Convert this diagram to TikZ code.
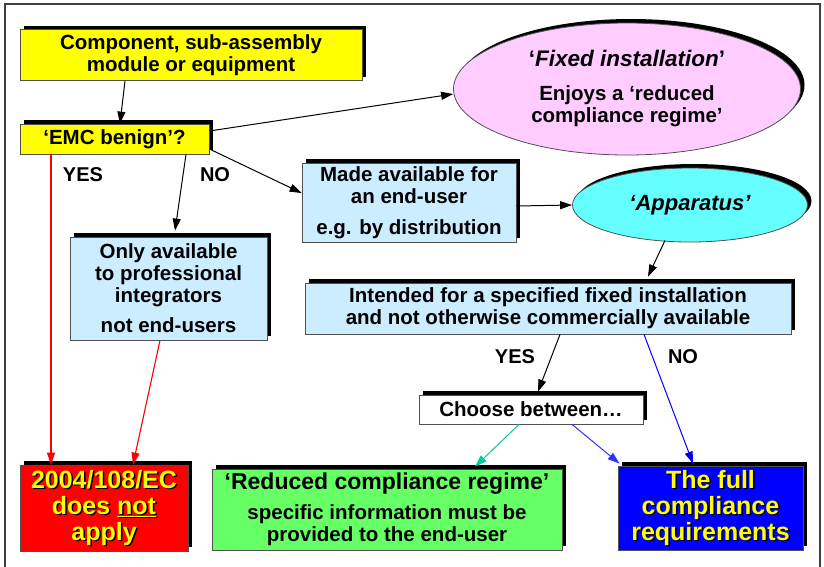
\documentclass[tikz,border=0pt]{standalone}
\usepackage{fontspec}
\setmainfont{Liberation Sans}
\usetikzlibrary{shapes.geometric,shadows,arrows.meta}
\definecolor{cyellow}{HTML}{FFFF00}
\definecolor{clblue}{HTML}{CCECFF}
\definecolor{cpink}{HTML}{FFCCFF}
\definecolor{ccyan}{HTML}{66FFFF}
\definecolor{cgreen}{HTML}{66FF66}
\definecolor{cblue}{HTML}{0000FF}
\definecolor{cred}{HTML}{FF0000}
\definecolor{cteal}{HTML}{00CC99}
\definecolor{cmblue}{HTML}{3333FF}
\definecolor{boxgray}{HTML}{505050}
\definecolor{framegray}{HTML}{404040}
\begin{document}
\begin{tikzpicture}[x=1pt,y=-1pt,
  box/.style={draw=boxgray, line width=0.8pt,
    drop shadow={shadow xshift=4pt,shadow yshift=4pt,fill=black,opacity=1},
    inner sep=0pt, align=center, font=\fontsize{20.5}{22}\bfseries\selectfont},
  ell/.style={box, ellipse},
  arr/.style={line width=1pt, -{Triangle[length=12pt,width=8pt]}},
  lbl/.style={font=\fontsize{20}{22}\bfseries\selectfont, inner sep=0pt},
  bigtxt/.style={font=\fontsize{25}{26}\bfseries\selectfont, align=center, inner sep=0pt},
]
\useasboundingbox (0,0) rectangle (824,566);
\fill[white] (0,0) rectangle (824,566);
\draw[framegray, line width=1.5pt] (5,572) -- (5,4) -- (820,4) -- (820,572);

% nodes
\node[box, fill=cyellow, minimum width=342pt, minimum height=51pt] (comp) at (191,55)
  {Component, sub-assembly\\module or equipment};
\node[box, fill=cyellow, minimum width=189pt, minimum height=30pt] (emc) at (114.5,139)
  {‘EMC benign’?};
\node[box, fill=clblue, minimum width=197pt, minimum height=103pt] (prof) at (168.5,288.5)
  {Only available\\to professional\\integrators\\[8pt]not end-users};
\node[box, fill=clblue, minimum width=214pt, minimum height=79pt] (made) at (409,202.5)
  {Made available for\\an end-user\\[9pt]e.g. by distribution};
\node[ell, fill=cpink, minimum width=347pt, minimum height=132pt] (fixed) at (627,89)
  {{\fontsize{22.5}{24}\selectfont ‘\textit{Fixed installation}’}\\[12pt]Enjoys a ‘reduced\\compliance regime’};
\node[ell, fill=ccyan, minimum width=235pt, minimum height=74pt] (app) at (690,205)
  {\fontsize{22}{24}\selectfont\itshape ‘Apparatus’};
\node[box, fill=clblue, minimum width=486pt, minimum height=51pt] (intended) at (548,308.5)
  {Intended for a specified fixed installation\\and not otherwise commercially available};
\node[box, fill=white, minimum width=224pt, minimum height=29pt] (choose) at (531,409.5)
  {Choose between…};
\node[box, fill=cgreen, minimum width=350pt, minimum height=81pt] (reduced) at (387,509.5)
  {{\fontsize{23}{24}\selectfont ‘Reduced compliance regime’}\\[8pt]specific information must be\\provided to the end-user};
\node[box, fill=cred, minimum width=168pt, minimum height=86pt] (notapply) at (104,508) {};
\node[box, fill=cblue, minimum width=185pt, minimum height=84pt] (full) at (710.5,508) {};

% shadowed yellow texts
\node[bigtxt, text=black] (notapplyS) at ([xshift=1.5pt,yshift=-1.5pt]notapply.center)
  {2004/108/EC\\does \underline{not}\\apply};
\node[bigtxt, text=cyellow] (notapplyT) at (notapply.center)
  {2004/108/EC\\does \underline{not}\\apply};
\node[bigtxt, text=black] (fullS) at ([xshift=1.5pt,yshift=-1.5pt]full.center)
  {The full\\compliance\\requirements};
\node[bigtxt, text=cyellow] (fullT) at (full.center)
  {The full\\compliance\\requirements};

% labels
\node[lbl] (yes1) at (83,175) {YES};
\node[lbl] (no1) at (215,175) {NO};
\node[lbl] (yes2) at (515,357) {YES};
\node[lbl] (no2) at (683,357) {NO};

% connectors
\draw[arr] ([xshift=-66pt]comp.south) -- ([xshift=5.5pt]emc.north);
\draw[arr] ([yshift=8pt]emc.east) -- ([yshift=-5pt]fixed.west);
\draw[arr] ([yshift=-10pt]emc.east) -- ([yshift=9.5pt]made.west);
\draw[arr] ([xshift=71.5pt]emc.south) -- ([xshift=6.5pt,yshift=6pt]prof.north);
\draw[arr, cred, line width=1.3pt] ([xshift=-63.5pt]emc.south) -- ([xshift=-53pt]notapply.north);
\draw[arr, cred, line width=1.1pt] ([xshift=-8.5pt]prof.south) -- ([xshift=29pt]notapply.north);
\draw[arr] ([yshift=-3.5pt]made.east) -- (app.west);
\draw[arr] ([xshift=-25pt,yshift=2pt]app.south) -- ([xshift=100pt,yshift=6pt]intended.north);
\draw[arr] ([xshift=12pt]intended.south) -- ([xshift=7pt,yshift=3pt]choose.north);
\draw[arr, cblue] ([xshift=96pt]intended.south) -- ([xshift=-17.5pt,yshift=2pt]full.north);
\draw[arr, cteal] ([xshift=-12pt]choose.south) -- ([xshift=88pt,yshift=2pt]reduced.north);
\draw[arr, cmblue] ([xshift=41pt]choose.south) -- ([xshift=2pt,yshift=2pt]full.north west);
\end{tikzpicture}
\end{document}
